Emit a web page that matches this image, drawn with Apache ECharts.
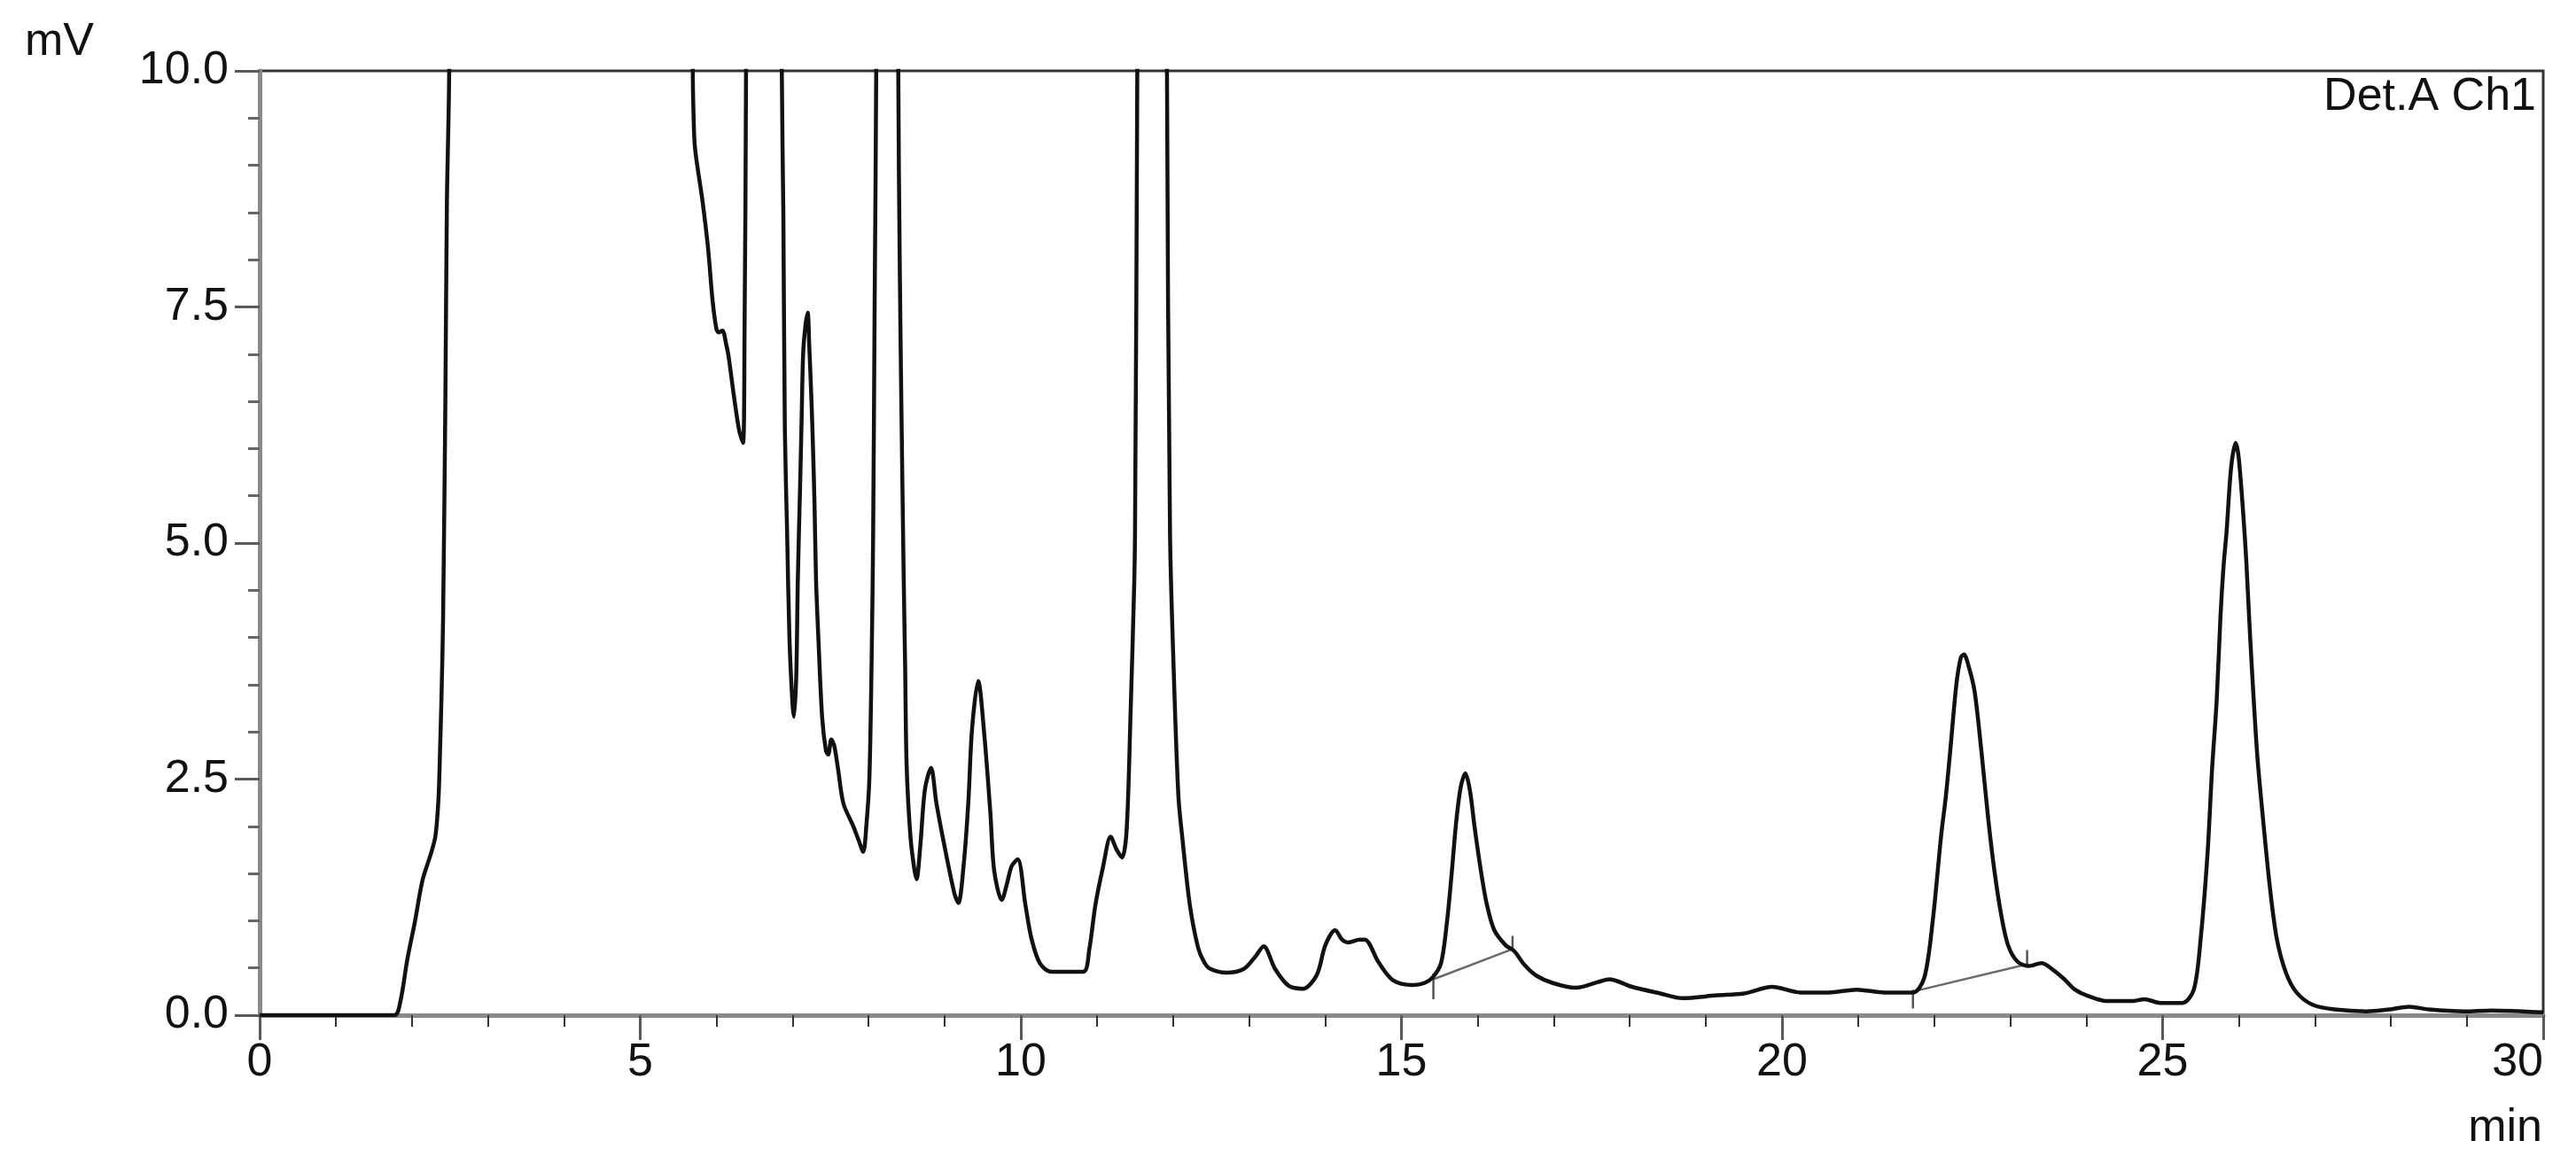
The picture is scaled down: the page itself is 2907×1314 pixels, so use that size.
<!DOCTYPE html>
<html>
<head>
<meta charset="utf-8">
<title>Det.A Ch1</title>
<script src="https://cdn.jsdelivr.net/npm/echarts@6/dist/echarts.min.js"></script>
<style>
  html, body { margin: 0; padding: 0; background: #fff; }
  #chart { width: 2907px; height: 1314px; }
</style>
</head>
<body>
<div id="chart"></div>
<script>
  // retention time, min
  var retentionTime = [
    0.00, 1.00, 1.77, 1.85, 1.94, 2.04, 2.14, 2.25, 2.31, 2.35, 2.37, 2.39, 2.41, 2.44, 2.46, 2.49, 2.55,
    5.60, 5.69, 5.70, 5.72, 5.82, 5.89, 5.95, 6.00, 6.03, 6.08, 6.13, 6.16, 6.23, 6.30, 6.35, 6.37, 6.39, 6.42,
    6.83, 6.86, 6.88, 6.90, 6.93, 6.96, 7.00, 7.02, 7.05, 7.07, 7.10, 7.12, 7.14, 7.17, 7.20, 7.22, 7.25, 7.27,
    7.29, 7.31, 7.34, 7.39, 7.44, 7.47, 7.51, 7.55, 7.60, 7.67, 7.80, 7.87, 7.93, 7.97, 8.01, 8.04, 8.06, 8.08,
    8.10, 8.13, 8.36, 8.39, 8.41, 8.43, 8.46, 8.48, 8.50, 8.55, 8.60, 8.63, 8.68, 8.74, 8.82, 8.89, 8.99, 9.13,
    9.18, 9.25, 9.31, 9.36, 9.44, 9.52, 9.60, 9.65, 9.75, 9.82, 9.88, 9.96, 10.06, 10.14, 10.25, 10.40, 10.82,
    10.90, 10.98, 11.08, 11.18, 11.26, 11.33, 11.39, 11.44, 11.49, 11.50, 11.53, 11.56, 11.89, 11.92, 11.96,
    12.01, 12.07, 12.12, 12.22, 12.33, 12.41, 12.49, 12.70, 12.93, 13.08, 13.19, 13.34, 13.52, 13.71, 13.89,
    14.00, 14.13, 14.22, 14.30, 14.45, 14.52, 14.70, 14.89, 15.15, 15.30, 15.41, 15.52, 15.60, 15.66, 15.72,
    15.78, 15.84, 15.90, 15.96, 16.04, 16.12, 16.22, 16.37, 16.48, 16.62, 16.77, 16.99, 17.29, 17.58, 17.73,
    18.03, 18.40, 18.69, 19.14, 19.50, 19.87, 20.24, 20.61, 20.98, 21.35, 21.72, 21.87, 21.98, 22.09, 22.15,
    22.21, 22.29, 22.35, 22.39, 22.45, 22.53, 22.62, 22.71, 22.79, 22.88, 22.97, 23.09, 23.24, 23.41, 23.56,
    23.71, 23.85, 24.03, 24.26, 24.62, 24.76, 24.97, 25.26, 25.41, 25.50, 25.59, 25.65, 25.71, 25.76, 25.80,
    25.84, 25.90, 25.96, 26.00, 26.06, 26.10, 26.15, 26.24, 26.32, 26.41, 26.50, 26.62, 26.76, 26.97, 27.26,
    27.68, 27.97, 28.24, 28.50, 28.97, 29.32, 30.00
  ];
  // detector signal, mV (values above 10 run off the top of the plot)
  var signalMv = [
    0.00, 0.00, 0.00, 0.15, 0.59, 0.99, 1.43, 1.71, 1.90, 2.30, 2.80, 3.40, 4.20, 6.50, 8.60, 10.0, 25,
    25, 10.0, 9.54, 9.18, 8.61, 8.13, 7.57, 7.27, 7.23, 7.25, 7.10, 6.98, 6.56, 6.19, 6.06, 7.20, 10.0, 25,
    25, 10.0, 8.50, 6.20, 5.10, 4.00, 3.30, 3.16, 3.60, 4.60, 5.60, 6.30, 7.00, 7.30, 7.44, 7.10, 6.50, 6.00,
    5.40, 4.60, 4.00, 3.15, 2.80, 2.76, 2.92, 2.85, 2.60, 2.24, 2.00, 1.85, 1.73, 2.00, 2.50, 3.76, 5.10, 7.60,
    10.0, 25, 25, 10.0, 7.90, 6.50, 4.70, 3.70, 2.64, 1.89, 1.55, 1.44, 1.80, 2.39, 2.62, 2.25, 1.82, 1.28,
    1.19, 1.60, 2.25, 3.04, 3.54, 2.97, 2.14, 1.53, 1.22, 1.40, 1.58, 1.65, 1.17, 0.81, 0.55, 0.46, 0.46,
    0.70, 1.17, 1.57, 1.89, 1.75, 1.67, 1.96, 3.15, 4.58, 5.10, 10.0, 25, 25, 10.0, 5.10,
    3.61, 2.32, 1.89, 1.17, 0.71, 0.56, 0.49, 0.45, 0.49, 0.62, 0.73, 0.49, 0.31, 0.28, 0.43,
    0.74, 0.90, 0.80, 0.77, 0.80, 0.80, 0.56, 0.37, 0.32, 0.34, 0.40, 0.55, 1.00, 1.50, 2.05,
    2.42, 2.56, 2.38, 2.00, 1.55, 1.18, 0.90, 0.74, 0.68, 0.53, 0.42, 0.34, 0.29, 0.35, 0.38,
    0.30, 0.23, 0.18, 0.21, 0.23, 0.30, 0.24, 0.24, 0.27, 0.24, 0.24, 0.40, 1.00, 1.90, 2.30,
    2.80, 3.50, 3.79, 3.82, 3.70, 3.43, 2.79, 2.07, 1.53, 1.06, 0.74, 0.57, 0.52, 0.55, 0.48,
    0.38, 0.27, 0.20, 0.15, 0.15, 0.17, 0.13, 0.13, 0.27, 0.81, 1.71, 2.61, 3.33, 4.22, 4.75,
    5.12, 5.80, 6.06, 5.90, 5.30, 4.80, 4.00, 2.79, 2.07, 1.35, 0.81, 0.45, 0.24, 0.11, 0.06,
    0.04, 0.06, 0.09, 0.06, 0.04, 0.05, 0.03
  ];
  // integration baselines [min, mV]
  var baselineA = [[15.42, 0.38], [16.46, 0.70]];
  var baselineB = [[21.72, 0.25], [23.22, 0.54]];
  // peak start / end marks [min, from mV, to mV]
  var peakMarks = [[15.42, 0.44, 0.17], [16.46, 0.68, 0.84], [21.72, 0.27, 0.07], [23.22, 0.53, 0.69]];
  var yTickLabels = ['0.0', '2.5', '5.0', '7.5', '10.0'];

  var FONT = '"Liberation Sans", Arial, sans-serif';
  var chart = echarts.init(document.getElementById('chart'), null, {renderer: 'canvas'});

  var trace = retentionTime.map(function (t, i) { return [t, signalMv[i]]; });

  var series = [{
    type: 'line',
    data: trace,
    showSymbol: false,
    clip: true,
    smooth: 0.3,
    lineStyle: {color: '#111', width: 4.5},
    z: 5
  }, {
    type: 'line',
    data: baselineA,
    showSymbol: false,
    lineStyle: {color: '#6a6a6a', width: 2.5},
    z: 4
  }, {
    type: 'line',
    data: baselineB,
    showSymbol: false,
    lineStyle: {color: '#6a6a6a', width: 2.5},
    z: 4
  }];
  peakMarks.forEach(function (m) {
    series.push({
      type: 'line',
      data: [[m[0], m[1]], [m[0], m[2]]],
      showSymbol: false,
      lineStyle: {color: '#555', width: 2.5},
      z: 4
    });
  });

  chart.setOption({
    backgroundColor: '#fff',
    animation: false,
    grid: {
      left: 293, top: 80, right: 37, bottom: 168,
      show: true, borderColor: '#333', borderWidth: 3
    },
    xAxis: {
      type: 'value',
      min: 0, max: 30, interval: 5,
      axisLine: {lineStyle: {color: '#8a8a8a', width: 5}},
      axisTick: {length: 28, lineStyle: {color: '#5a5a5a', width: 3}},
      minorTick: {show: true, splitNumber: 5, length: 13, lineStyle: {color: '#333', width: 2}},
      splitLine: {show: false},
      axisLabel: {
        margin: 28, color: '#111', fontSize: 52, fontFamily: FONT,
        alignMaxLabel: 'right'
      }
    },
    yAxis: {
      type: 'value',
      min: 0, max: 10, interval: 2.5,
      axisLine: {show: true, lineStyle: {color: '#8a8a8a', width: 5}},
      axisTick: {show: true, length: 28, lineStyle: {color: '#5a5a5a', width: 3}},
      minorTick: {show: true, splitNumber: 5, length: 13, lineStyle: {color: '#666', width: 3}},
      splitLine: {show: false},
      axisLabel: {
        margin: 35, color: '#111', fontSize: 52, fontFamily: FONT,
        formatter: function (v) { return yTickLabels[Math.round(v / 2.5)]; }
      }
    },
    graphic: [
      {type: 'text', left: 28, top: 22, style: {text: 'mV', fontSize: 52, fontFamily: FONT, fill: '#111'}},
      {type: 'text', right: 45, top: 84, style: {text: 'Det.A Ch1', fontSize: 52, fontFamily: FONT, fill: '#111'}},
      {type: 'text', right: 38, top: 1248, style: {text: 'min', fontSize: 52, fontFamily: FONT, fill: '#111'}}
    ],
    series: series
  });
</script>
</body>
</html>
